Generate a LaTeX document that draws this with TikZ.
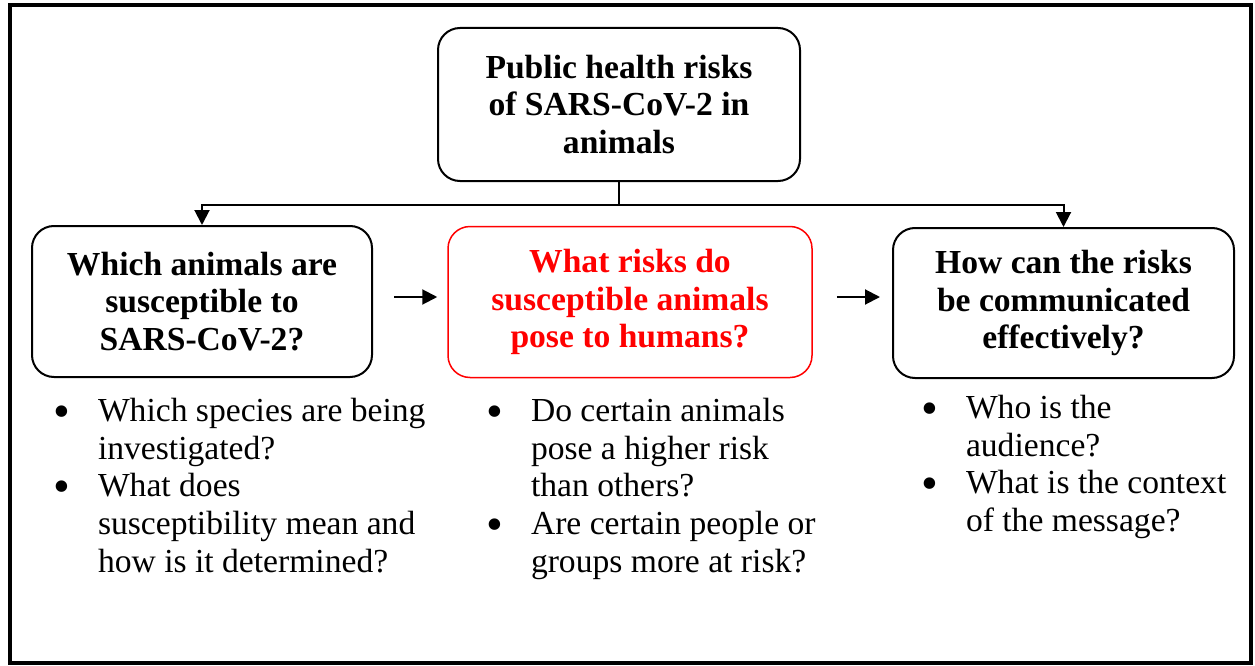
\documentclass[tikz,border=0pt]{standalone}
\usepackage{fontspec}
\setmainfont{Liberation Serif}
\usetikzlibrary{arrows.meta}
\newcommand\bul{\llap{\raisebox{-6pt}{\fontsize{48}{48}\selectfont\textbullet}\hspace{28pt}}}
\begin{document}
\begin{tikzpicture}[x=1pt,y=-1pt,line width=2pt,
	box/.style={draw, rounded corners=22pt, minimum height=151pt, inner sep=0pt, align=center, font=\fontsize{33.6}{37.8}\selectfont\bfseries},
	qlist/.style={anchor=north west, inner sep=0pt, align=left, font=\fontsize{33.6}{37.8}\selectfont},
	arr/.style={-{Triangle[length=15pt,width=15pt]}}]
	\useasboundingbox (0,0) rectangle (1255,666);
	\draw[line width=4pt] (10,5) rectangle (1251,663);
	\node (top) at (619,104.5)	[box, minimum width=362pt, minimum height=153pt]	{Public health risks\\of SARS-CoV-2 in\\animals};
	\node (which) at (202,301.5)	[box, minimum width=340pt]	{Which animals are\\susceptible to\\SARS-CoV-2?};
	\node (risks) at (630,302)	[box, minimum width=364pt, draw=red, text=red, line width=1.5pt]	{What risks do\\susceptible animals\\pose to humans?};
	\node (comm) at (1063.5,303)	[box, minimum width=341pt, minimum height=150pt]	{How can the risks\\be communicated\\effectively?};
	\node (Q1) at (97,397)	[qlist]	{\bul Which species are being\\investigated?\\\bul What does\\susceptibility mean and\\how is it determined?};
	\node (Q2) at (530,397)	[qlist]	{\bul Do certain animals\\pose a higher risk\\than others?\\\bul Are certain people or\\groups more at risk?};
	\node (Q3) at (965,394)	[qlist]	{\bul Who is the\\audience?\\\bul What is the context\\of the message?};
	\draw[arr] (top.south) -- ++(0,23) -| (which.north);
	\draw[arr] (top.south) -- ++(0,23) -| (comm.north);
	\draw[arr] ([xshift=21pt,yshift=4.5pt]which.east) -- ([xshift=-10pt,yshift=5pt]risks.west);
	\draw[arr] ([xshift=24pt,yshift=5pt]risks.east) -- ([xshift=-12pt,yshift=6pt]comm.west);
\end{tikzpicture}
\end{document}
